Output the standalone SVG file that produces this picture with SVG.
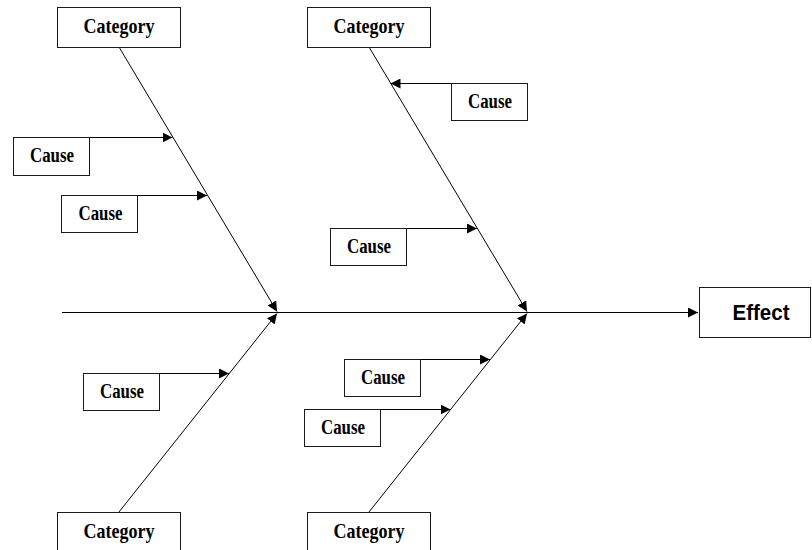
<svg xmlns="http://www.w3.org/2000/svg" width="812" height="550" viewBox="0 0 812 550">
  <style>
    .box { fill: #fff; stroke: #1a1a1a; stroke-width: 1; }
    .line { fill: none; stroke: #000; stroke-width: 1; }
    .cat { font-family: "Liberation Serif", "Times New Roman", serif; font-weight: bold; font-size: 21px; text-anchor: middle; fill: #000; }
    .cause { font-family: "Liberation Serif", "Times New Roman", serif; font-weight: bold; font-size: 20px; text-anchor: middle; fill: #000; }
    .effect { font-family: "Liberation Sans", Arial, sans-serif; font-weight: bold; font-size: 22px; text-anchor: middle; fill: #000; }
  </style>
  <defs>
    <marker id="arrow" markerUnits="userSpaceOnUse" viewBox="0 0 10 10" refX="10" refY="5" markerWidth="10" markerHeight="10" orient="auto">
      <path d="M0,0 L10,5 L0,10 z" fill="#000"/>
    </marker>
  </defs>

  <!-- spine, bones and cause arrows -->
  <g id="connectors">
    <line class="line" x1="62" y1="312.5" x2="698" y2="312.5" marker-end="url(#arrow)"/>
    <line class="line" x1="119" y1="47" x2="277" y2="311.5" marker-end="url(#arrow)"/>
    <line class="line" x1="369" y1="47" x2="527" y2="311.5" marker-end="url(#arrow)"/>
    <line class="line" x1="119" y1="512" x2="277" y2="313.5" marker-end="url(#arrow)"/>
    <line class="line" x1="369" y1="512" x2="527" y2="313.5" marker-end="url(#arrow)"/>
    <line class="line" x1="51" y1="137.5" x2="172.5" y2="137.5" marker-end="url(#arrow)"/>
    <line class="line" x1="99.5" y1="195.5" x2="207" y2="195.5" marker-end="url(#arrow)"/>
    <line class="line" x1="489" y1="83.5" x2="390.5" y2="83.5" marker-end="url(#arrow)"/>
    <line class="line" x1="368" y1="228.5" x2="477" y2="228.5" marker-end="url(#arrow)"/>
    <line class="line" x1="121" y1="373.5" x2="229" y2="373.5" marker-end="url(#arrow)"/>
    <line class="line" x1="382" y1="359.5" x2="490" y2="359.5" marker-end="url(#arrow)"/>
    <line class="line" x1="342" y1="409.5" x2="450.5" y2="409.5" marker-end="url(#arrow)"/>
  </g>

  <g id="category-top-left">
    <rect class="box" x="57.5" y="7.5" width="123" height="40"/>
    <text class="cat" x="119" y="33" textLength="71" lengthAdjust="spacingAndGlyphs">Category</text>
  </g>
  <g id="category-top-right">
    <rect class="box" x="307.5" y="7.5" width="123" height="40"/>
    <text class="cat" x="369" y="33" textLength="71" lengthAdjust="spacingAndGlyphs">Category</text>
  </g>
  <g id="category-bottom-left">
    <rect class="box" x="57.5" y="512.5" width="123" height="40"/>
    <text class="cat" x="119" y="538" textLength="71" lengthAdjust="spacingAndGlyphs">Category</text>
  </g>
  <g id="category-bottom-right">
    <rect class="box" x="307.5" y="512.5" width="123" height="40"/>
    <text class="cat" x="369" y="538" textLength="71" lengthAdjust="spacingAndGlyphs">Category</text>
  </g>

  <g id="cause-1">
    <rect class="box" x="13.5" y="137.5" width="76" height="38"/>
    <text class="cause" x="52" y="162" textLength="44" lengthAdjust="spacingAndGlyphs">Cause</text>
  </g>
  <g id="cause-2">
    <rect class="box" x="61.5" y="195.5" width="76" height="37"/>
    <text class="cause" x="100.5" y="220" textLength="44" lengthAdjust="spacingAndGlyphs">Cause</text>
  </g>
  <g id="cause-3">
    <rect class="box" x="451.5" y="83.5" width="76" height="37"/>
    <text class="cause" x="490" y="108" textLength="44" lengthAdjust="spacingAndGlyphs">Cause</text>
  </g>
  <g id="cause-4">
    <rect class="box" x="330.5" y="228.5" width="76" height="37"/>
    <text class="cause" x="369" y="253" textLength="44" lengthAdjust="spacingAndGlyphs">Cause</text>
  </g>
  <g id="cause-5">
    <rect class="box" x="83.5" y="373.5" width="76" height="37"/>
    <text class="cause" x="122" y="398" textLength="44" lengthAdjust="spacingAndGlyphs">Cause</text>
  </g>
  <g id="cause-6">
    <rect class="box" x="344.5" y="359.5" width="76" height="37"/>
    <text class="cause" x="383" y="384" textLength="44" lengthAdjust="spacingAndGlyphs">Cause</text>
  </g>
  <g id="cause-7">
    <rect class="box" x="304.5" y="409.5" width="76" height="37"/>
    <text class="cause" x="343" y="434" textLength="44" lengthAdjust="spacingAndGlyphs">Cause</text>
  </g>

  <g id="effect">
    <rect class="box" x="699.5" y="287.5" width="111" height="50"/>
    <text class="effect" x="761" y="320" textLength="57" lengthAdjust="spacingAndGlyphs">Effect</text>
  </g>
</svg>
